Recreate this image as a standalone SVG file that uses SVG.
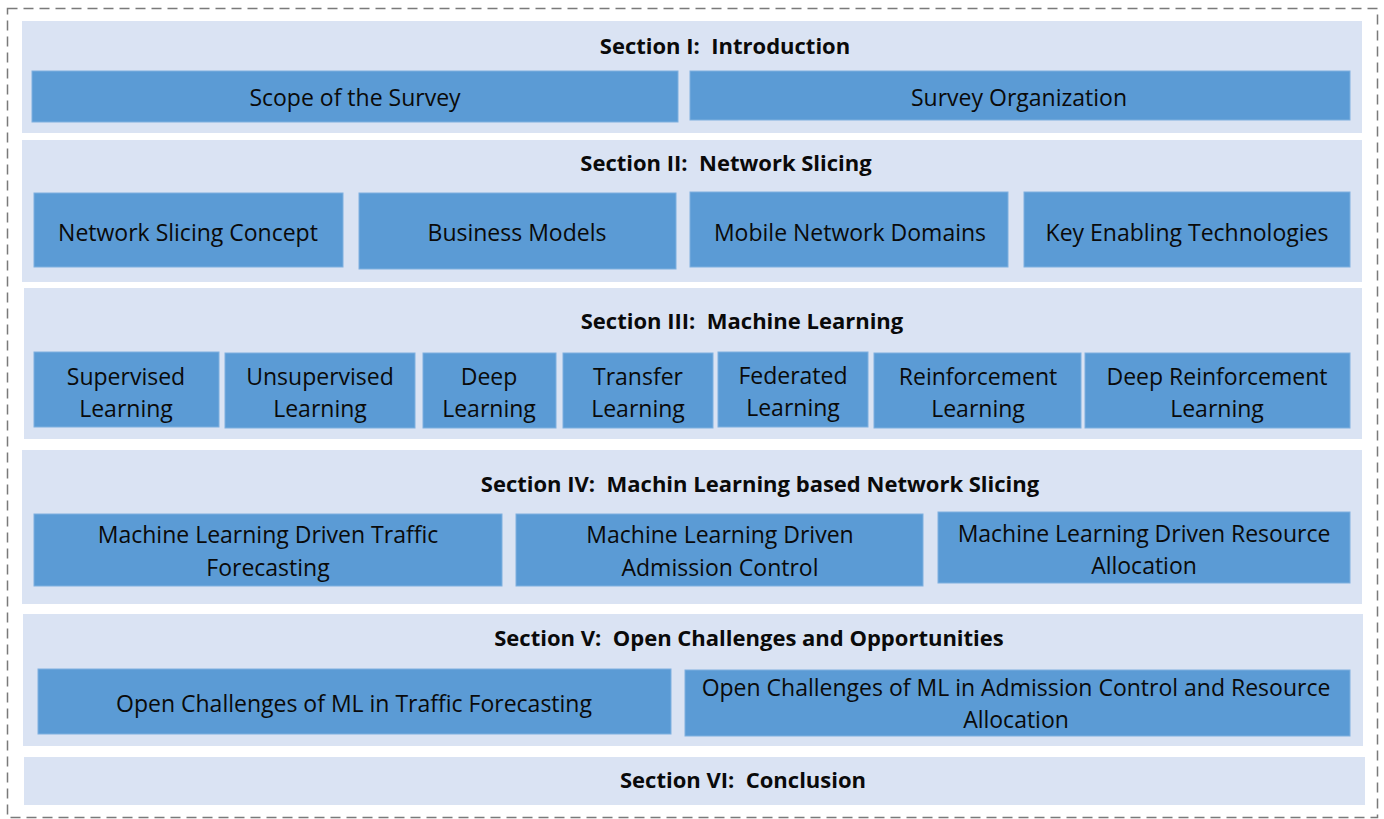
<svg xmlns="http://www.w3.org/2000/svg" width="1384" height="819" viewBox="0 0 1384 819">
<style>
.panel{fill:#DAE3F3;}
.box{fill:#5B9BD5;stroke:#7fb0df;stroke-width:1;}
.t{font-family:"Open Sans","Liberation Sans",sans-serif;font-size:23px;fill:#0a0a0a;text-anchor:middle;dominant-baseline:central;}
.h{font-family:"Open Sans","Liberation Sans",sans-serif;font-size:22px;font-weight:bold;fill:#0a0a0a;text-anchor:middle;dominant-baseline:central;white-space:pre;}
</style>
<rect x="7.5" y="8.5" width="1370" height="809" fill="#fff" stroke="#7a7a7a" stroke-width="1.5" stroke-dasharray="10 6"/>
<g id="section1">
<rect class="panel" x="22" y="21" width="1340" height="112"/>
<text class="h" x="725" y="45" xml:space="preserve">Section I:  Introduction</text>
<g id="scope"><rect class="box" x="32" y="71" width="646" height="51"/><text class="t" x="355" y="97">Scope of the Survey</text></g>
<g id="organization"><rect class="box" x="690" y="71" width="660" height="49"/><text class="t" x="1019" y="97">Survey Organization</text></g>
</g>
<g id="section2">
<rect class="panel" x="22" y="140" width="1340" height="142"/>
<text class="h" x="726" y="162" xml:space="preserve">Section II:  Network Slicing</text>
<g id="ns-concept"><rect class="box" x="34" y="193" width="309" height="74"/><text class="t" x="188" y="232">Network Slicing Concept</text></g>
<g id="business"><rect class="box" x="359" y="193" width="317" height="76"/><text class="t" x="517" y="232">Business Models</text></g>
<g id="domains"><rect class="box" x="690" y="192" width="318" height="75"/><text class="t" x="850" y="232">Mobile Network Domains</text></g>
<g id="enabling"><rect class="box" x="1024" y="192" width="326" height="75"/><text class="t" x="1187" y="232">Key Enabling Technologies</text></g>
</g>
<g id="section3">
<rect class="panel" x="24" y="288" width="1338" height="151"/>
<text class="h" x="742" y="320" xml:space="preserve">Section III:  Machine Learning</text>
<g id="supervised"><rect class="box" x="34" y="352" width="185" height="75"/><text class="t" x="126" y="376">Supervised</text><text class="t" x="126" y="408">Learning</text></g>
<g id="unsupervised"><rect class="box" x="225" y="353" width="190" height="75"/><text class="t" x="320" y="376">Unsupervised</text><text class="t" x="320" y="408">Learning</text></g>
<g id="deep"><rect class="box" x="423" y="353" width="133" height="75"/><text class="t" x="489" y="376">Deep</text><text class="t" x="489" y="408">Learning</text></g>
<g id="transfer"><rect class="box" x="563" y="353" width="150" height="75"/><text class="t" x="638" y="376">Transfer</text><text class="t" x="638" y="408">Learning</text></g>
<g id="federated"><rect class="box" x="718" y="352" width="150" height="75"/><text class="t" x="793" y="375">Federated</text><text class="t" x="793" y="407">Learning</text></g>
<g id="reinforcement"><rect class="box" x="874" y="353" width="207" height="75"/><text class="t" x="978" y="376">Reinforcement</text><text class="t" x="978" y="408">Learning</text></g>
<g id="deep-rl"><rect class="box" x="1085" y="353" width="265" height="75"/><text class="t" x="1217" y="376">Deep Reinforcement</text><text class="t" x="1217" y="408">Learning</text></g>
</g>
<g id="section4">
<rect class="panel" x="22" y="450" width="1340" height="154"/>
<text class="h" x="760" y="483" xml:space="preserve">Section IV:  Machin Learning based Network Slicing</text>
<g id="traffic"><rect class="box" x="34" y="514" width="468" height="72"/><text class="t" x="268" y="534">Machine Learning Driven Traffic</text><text class="t" x="268" y="567">Forecasting</text></g>
<g id="admission"><rect class="box" x="516" y="514" width="407" height="72"/><text class="t" x="720" y="534">Machine Learning Driven</text><text class="t" x="720" y="567">Admission Control</text></g>
<g id="resource"><rect class="box" x="938" y="512" width="412" height="71"/><text class="t" x="1144" y="533">Machine Learning Driven Resource</text><text class="t" x="1144" y="565">Allocation</text></g>
</g>
<g id="section5">
<rect class="panel" x="23" y="614" width="1340" height="132"/>
<text class="h" x="749" y="637" xml:space="preserve">Section V:  Open Challenges and Opportunities</text>
<g id="oc-traffic"><rect class="box" x="38" y="669" width="633" height="65"/><text class="t" x="354" y="703">Open Challenges of ML in Traffic Forecasting</text></g>
<g id="oc-admission"><rect class="box" x="685" y="670" width="665" height="66"/><text class="t" x="1016" y="687">Open Challenges of ML in Admission Control and Resource</text><text class="t" x="1016" y="719">Allocation</text></g>
</g>
<g id="section6">
<rect class="panel" x="24" y="757" width="1341" height="48"/>
<text class="h" x="743" y="779" xml:space="preserve">Section VI:  Conclusion</text>
</g>
<g id="connectors"></g>
</svg>
